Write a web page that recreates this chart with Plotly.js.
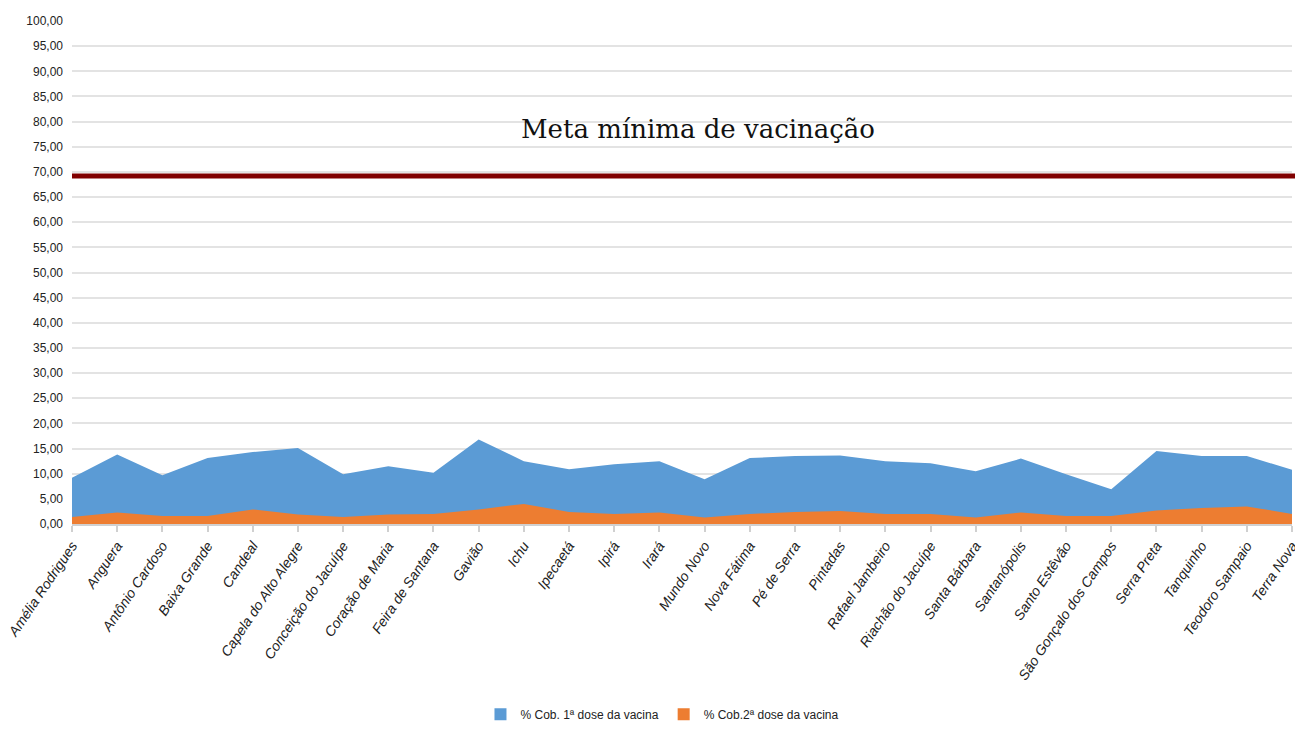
<!DOCTYPE html>
<html>
<head>
<meta charset="utf-8">
<script src="https://cdn.plot.ly/plotly-3.0.1.min.js"></script>
<style>html,body{margin:0;padding:0;background:#fff;}#chart{width:1295px;height:731px;}</style>
</head>
<body>
<div id="chart"></div>
<script>
const municipios = ["Amélia Rodrigues","Anguera","Antônio Cardoso","Baixa Grande","Candeal","Capela do Alto Alegre","Conceição do Jacuípe","Coração de Maria","Feira de Santana","Gavião","Ichu","Ipecaetá","Ipirá","Irará","Mundo Novo","Nova Fátima","Pé de Serra","Pintadas","Rafael Jambeiro","Riachão do Jacuípe","Santa Bárbara","Santanópolis","Santo Estêvão","São Gonçalo dos Campos","Serra Preta","Tanquinho","Teodoro Sampaio","Terra Nova"];
const dose1 = [9.2,13.8,9.7,13.1,14.3,15.1,9.9,11.5,10.2,16.8,12.5,10.9,11.9,12.5,8.9,13.1,13.5,13.6,12.5,12.1,10.5,13.0,9.9,6.9,14.5,13.5,13.5,10.8];
const dose2 = [1.4,2.3,1.6,1.6,2.9,1.9,1.4,1.9,2.0,2.9,4.0,2.4,2.0,2.3,1.3,2.0,2.4,2.6,2.0,2.0,1.3,2.3,1.6,1.6,2.7,3.2,3.5,2.0];
const metaMinima = 69.2;
const metaTexto = "Meta mínima de vacinação";
const serie1Nome = "% Cob. 1ª dose da vacina";
const serie2Nome = "% Cob.2ª dose da vacina";
const cor1 = "#5b9bd5";
const cor2 = "#ed7d31";

const sans = "Liberation Sans, Arial, sans-serif";

const traces = [
  {x: municipios, y: dose1, type: "scatter", mode: "lines", fill: "tozeroy", showlegend: false,
   name: serie1Nome, line: {color: cor1, width: 0}, fillcolor: cor1, hoverinfo: "x+y"},
  {x: municipios, y: dose2, type: "scatter", mode: "lines", fill: "tozeroy", showlegend: false,
   name: serie2Nome, line: {color: cor2, width: 0}, fillcolor: cor2, hoverinfo: "x+y"},
  {x: [null], y: [null], type: "scatter", mode: "markers", name: serie1Nome,
   marker: {symbol: "square", size: 8, color: cor1}},
  {x: [null], y: [null], type: "scatter", mode: "markers", name: serie2Nome,
   marker: {symbol: "square", size: 8, color: cor2}}
];

const layout = {
  width: 1295, height: 731,
  margin: {l: 72, r: 3, t: 21, b: 207},
  paper_bgcolor: "#fff", plot_bgcolor: "#fff",
  separators: ",.",
  showlegend: true,
  legend: {orientation: "h", x: 0.484, xanchor: "center", y: -0.378, yanchor: "middle",
           font: {family: sans, size: 12, color: "#222"}, itemwidth: 30, traceorder: "normal",
           itemsizing: "constant", tracegroupgap: 0},
  xaxis: {type: "category", showgrid: false, zeroline: false, showline: true, linecolor: "#d0d0d0", linewidth: 2,
          ticks: "outside", ticklen: 6, tickcolor: "#d0d0d0", tickwidth: 1.5, automargin: false,
          tickangle: -56, tickfont: {family: sans, size: 14, color: "#222", style: "italic"}, range: [0, 27], fixedrange: true},
  yaxis: {range: [0, 100], dtick: 5, tick0: 0, tickformat: ".2f", showgrid: true, gridcolor: "#e3e3e3", gridwidth: 2,
          zeroline: false, showline: false, ticks: "", ticklabelstandoff: 8, automargin: false,
          tickfont: {family: sans, size: 12, color: "#222"}},
  shapes: [{type: "line", xref: "paper", x0: 0, x1: 1.003, yref: "y", y0: metaMinima, y1: metaMinima,
            line: {color: "#800000", width: 5}}],
  annotations: [{text: metaTexto, xref: "paper", x: 0.513, yref: "y", y: 78.6, xanchor: "center", yanchor: "middle",
                 showarrow: false, font: {family: "DejaVu Serif, serif", size: 26, color: "#111"}}]
};

Plotly.newPlot("chart", traces, layout, {displayModeBar: false});
</script>
</body>
</html>
